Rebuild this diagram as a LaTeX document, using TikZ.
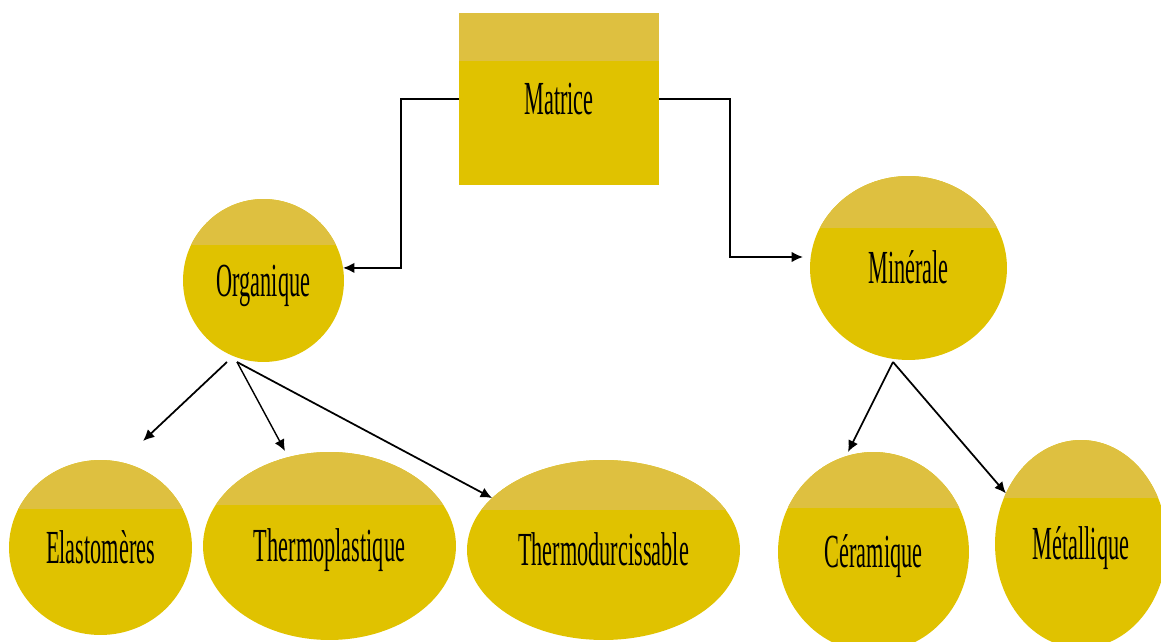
\documentclass[tikz,border=0pt]{standalone}
\usepackage{fontspec}
\setmainfont{Liberation Serif}
\usepackage{graphicx}
\usetikzlibrary{arrows.meta,calc,shapes.geometric}

\definecolor{gold}{RGB}{224,194,0}
\definecolor{goldlight}{RGB}{222,192,64}

% narrow, tall lettering
\newcommand{\sqz}[1]{\scalebox{0.47}[1]{#1}}

\tikzset{
  banded/.style={fill=gold, draw=none, inner sep=0pt, outer sep=0pt,
    font=\fontsize{27}{30}\selectfont, text height=17.8pt, text depth=0pt,
    path picture={\fill[goldlight] (path picture bounding box.north west) rectangle
      ($(path picture bounding box.north east)!0.28!(path picture bounding box.south east)$);}},
  boxnode/.style={banded, rectangle},
  bubble/.style={banded, ellipse},
  conn/.style={line width=1pt, -{Latex[length=6.5pt,width=6pt]}}
}

\begin{document}
\begin{tikzpicture}[x=0.02cm, y=-0.02cm]
  \useasboundingbox (0,0) rectangle (1161,642);
  \clip (0,0) rectangle (1161,642);

  % nodes
  \node[boxnode, minimum width=4cm, minimum height=3.44cm] (Mat) at (559,99) {\sqz{Matrice}};
  \node[bubble, minimum width=3.22cm, minimum height=3.26cm] (Org) at (263.5,280.5) {\sqz{Organique}};
  \node[bubble, minimum width=3.94cm, minimum height=3.68cm] (Min) at (908.5,268) {\sqz{Minérale}};
  \node[bubble, minimum width=3.66cm, minimum height=3.5cm] (Ela) at (100.5,547.5) {\sqz{Elastomères}};
  \node[bubble, minimum width=5.06cm, minimum height=3.76cm] (Thp) at (329.5,546) {\sqz{Thermoplastique}};
  \node[bubble, minimum width=5.46cm, minimum height=3.6cm] (Thd) at (603.5,550) {\sqz{Thermodurcissable}};
  \node[bubble, minimum width=3.82cm, minimum height=4cm] (Cer) at (873.5,552) {\sqz{Céramique}};
  \node[bubble, minimum width=3.44cm, minimum height=4.16cm] (Met) at (1081,544) {\sqz{Métallique}};

  % connector ends
  \coordinate (minIn) at (803,257);
  \coordinate (orgOutA) at (227,362);
  \coordinate (orgOutB) at (237,362);
  \coordinate (minOut) at (893,362);
  \coordinate (elaIn) at (143,441);
  \coordinate (thpIn) at (285,451);
  \coordinate (cerIn) at (848,452);

  % connectors
  \draw[conn] (Mat.west) -- ++(-58,0) |- (Org.9);
  \draw[conn] (Mat.east) -- ++(71,0) |- (minIn);
  \draw[conn] (orgOutA) -- (elaIn);
  \draw[conn, line width=0.8pt] (orgOutB) -- (thpIn);
  \draw[conn] (orgOutB) -- (Thd.155);
  \draw[conn] (minOut) -- (cerIn);
  \draw[conn] (minOut) -- (Met.146);
\end{tikzpicture}
\end{document}
